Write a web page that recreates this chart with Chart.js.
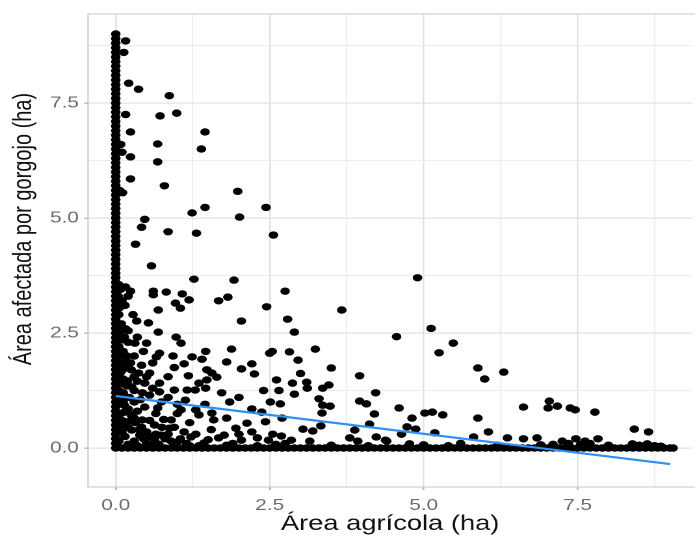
<!DOCTYPE html>
<html>
<head>
<meta charset="utf-8">
<script src="https://cdn.jsdelivr.net/npm/chart.js@4/dist/chart.umd.min.js"></script>
<style>
  html, body { margin: 0; padding: 0; background: #fff; }
  #plot { display: block; width: 697px; height: 538px; }
</style>
</head>
<body>
<canvas id="plot" width="536" height="538" style="width:697px;height:538px"></canvas>
<script>
/* =====================================================
   DATA
===================================================== */

// farms with no agricultural area: x = 0, affected area spread up to 9
const colY = [0.0, 0.1, 0.2, 0.3, 0.4, 0.5, 0.6, 0.7, 0.8, 0.9,
  1.0, 1.1, 1.2, 1.3, 1.4, 1.5, 1.6, 1.7, 1.8, 1.9,
  2.0, 2.1, 2.2, 2.3, 2.4, 2.5, 2.6, 2.7, 2.8, 2.9,
  3.0, 3.1, 3.2, 3.3, 3.4, 3.5, 3.6, 3.7, 3.8, 3.9,
  4.0, 4.1, 4.2, 4.3, 4.4, 4.5, 4.6, 4.7, 4.8, 4.9,
  5.0, 5.1, 5.2, 5.3, 5.4, 5.5, 5.6, 5.7, 5.8, 5.9,
  6.0, 6.1, 6.2, 6.3, 6.4, 6.5, 6.6, 6.7, 6.8, 6.9,
  7.0, 7.1, 7.2, 7.3, 7.4, 7.5, 7.6, 7.7, 7.8, 7.9,
  8.0, 8.1, 8.2, 8.3, 8.4, 8.5, 8.6, 8.7, 8.8, 8.9, 9.0];

// farms with no affected area: y = 0, agricultural area up to 9
const rowX = [0.1, 0.2, 0.3, 0.4, 0.5, 0.6, 0.7, 0.8, 0.9,
  1.0, 1.1, 1.2, 1.3, 1.4, 1.5, 1.6, 1.7, 1.8, 1.9,
  2.0, 2.1, 2.2, 2.3, 2.4, 2.5, 2.6, 2.7, 2.8, 2.9,
  3.0, 3.1, 3.2, 3.3, 3.4, 3.5, 3.6, 3.7, 3.8, 3.9,
  4.0, 4.1, 4.2, 4.3, 4.4, 4.5, 4.6, 4.7, 4.8, 4.9,
  5.0, 5.1, 5.2, 5.3, 5.4, 5.5, 5.6, 5.7, 5.8, 5.9,
  6.0, 6.1, 6.2, 6.3, 6.4, 6.5, 6.6, 6.7, 6.8, 6.9,
  7.0, 7.1, 7.2, 7.3, 7.4, 7.5, 7.6, 7.7, 7.8, 7.9,
  8.0, 8.1, 8.2, 8.3, 8.4, 8.5, 8.6, 8.7, 8.8, 8.9, 9.0, 9.05];

// scattered points above 3.5 ha
const upperPts = [
  [0.16,8.85],[0.13,8.6],[0.21,7.93],[0.37,7.8],[0.87,7.66],[0.16,7.25],[0.72,7.22],
  [0.99,7.28],[0.24,6.87],[1.45,6.87],[0.68,6.61],[1.39,6.5],[0.08,6.6],[0.1,6.43],
  [0.24,6.33],[0.68,6.22],[0.24,5.85],[0.79,5.7],[1.98,5.58],[0.11,5.55],[0.06,5.6],
  [1.24,5.11],[1.45,5.23],[2.01,5.02],[2.44,5.23],[2.56,4.63],[0.47,4.97],[0.42,4.8],
  [0.85,4.7],[1.31,4.67],[0.32,4.43],[0.58,3.96],[1.27,3.67],[1.92,3.65],[4.9,3.7],
  [0.16,3.5]
];

// scattered points between 2.5 and 3.5 ha
const midPts = [
  [0.24,3.41],[0.61,3.41],[0.61,3.33],[0.82,3.39],[1.08,3.35],[1.19,3.22],[0.97,3.15],
  [1.05,3.04],[0.69,3.0],[1.67,3.2],[1.82,3.28],[2.45,3.07],[2.75,3.41],[3.67,3.0],
  [0.34,2.76],[0.53,2.72],[2.04,2.76],[2.79,2.8],[5.12,2.6],[0.16,2.59],[2.9,2.52],
  [4.56,2.42],[0.69,2.52]
];

// scattered points below 2.5 ha
const lowPts = [
  [0.35,2.41],[0.5,2.28],[0.31,2.28],[0.98,2.41],[1.06,2.28],[1.46,2.1],[1.88,2.15],
  [0.71,2.06],[0.93,2.0],[0.66,1.98],[1.24,1.98],[1.4,1.93],[1.8,1.87],[1.11,1.83],
  [2.5,2.06],[2.54,2.1],[2.82,2.09],[0.24,1.85],[0.42,1.8],[0.37,1.63],[0.55,1.63],
  [1.18,1.57],[1.48,1.7],[1.56,1.63],[1.64,1.54],[1.48,1.48],[2.04,1.72],[2.21,1.83],
  [2.25,1.61],[2.61,1.48],[2.87,1.41],[0.19,1.46],[0.47,1.41],[0.71,1.41],[0.6,1.3],
  [1.35,1.41],[1.29,1.26],[1.46,1.3],[1.72,1.2],[0.95,1.26],[1.16,1.26],[0.43,1.2],
  [0.71,1.22],[0.26,1.33],[1.13,1.04],[1.06,0.83],[1.3,0.83],[0.74,1.0],[0.68,0.87],
  [0.47,0.89],[0.14,0.93],[0.14,0.78],[0.27,0.67],[0.43,0.61],[0.63,0.5],[0.9,0.61],
  [0.87,0.43],[1.56,0.76],[1.59,0.61],[1.35,0.72],[2.21,0.85],[2.37,0.78],[2.51,1.0],
  [2.67,0.96],[2.43,0.57],[2.13,0.54],[1.95,0.43],[1.76,0.28],[2.21,0.35],[2.69,0.26],
  [2.85,0.17],[1.11,0.35],[1.22,0.24],[1.0,0.13],[1.43,0.11],[0.26,0.39],[0.39,0.28],
  [0.63,0.17],[0.74,0.28],[1.67,0.22],[2.48,0.17],[2.04,0.17],[0.18,0.57],[0.13,1.15],
  [0.11,1.7],[0.14,2.41],
  [3.24,2.15],[2.96,1.91],[3.5,1.74],[3.0,1.62],[2.9,1.17],[3.1,1.43],[3.11,1.3],
  [3.36,1.3],[3.46,1.37],[3.96,1.57],[4.22,1.2],[3.3,1.07],[3.36,0.93],[3.48,0.91],
  [3.35,0.76],[3.96,1.02],[4.07,0.96],[4.2,0.74],[4.6,0.87],[4.81,0.65],[5.02,0.76],
  [5.14,0.78],[5.31,0.72],[5.88,1.74],[5.99,1.5],[6.3,1.65],[5.25,2.07],[5.48,2.28],
  [3.04,0.41],[3.2,0.37],[3.33,0.48],[3.88,0.39],[4.12,0.52],[4.23,0.24],[4.4,0.15],
  [4.64,0.3],[4.73,0.46],[4.87,0.41],[5.18,0.33],[5.88,0.65],[5.81,0.24],[6.05,0.35],
  [6.36,0.22],[3.15,0.15],[3.8,0.22],[3.93,0.15],[4.38,0.17],[4.77,0.09],
  [6.62,0.89],[6.62,0.2],[6.84,0.22],[7.04,1.02],[7.02,0.87],[7.17,0.91],[7.38,0.87],
  [7.46,0.83],[7.78,0.78],[7.25,0.15],[7.47,0.2],[7.62,0.15],[7.83,0.2],[8.42,0.41],
  [8.65,0.35],[8.39,0.09],[8.63,0.09]
];

// dense wedge next to the x = 0 column
const nearColPts = [
  [0.05,3.55],[0.08,3.45],[0.04,3.3],[0.1,3.2],[0.06,3.05],[0.05,2.9],[0.09,2.7],
  [0.12,2.6],[0.06,2.5],[0.1,2.35],[0.2,2.3],[0.05,2.2],[0.12,2.1],[0.07,2.0],
  [0.16,1.95],[0.05,1.85],[0.14,1.8],[0.2,1.75],[0.08,1.65],[0.25,1.7],[0.05,1.55],
  [0.12,1.5],[0.3,1.55],[0.08,1.4],[0.18,1.35],[0.05,1.25],[0.12,1.2],[0.22,1.1],
  [0.08,1.05],[0.3,1.0],[0.05,0.95],[0.2,0.85],[0.35,0.8],[0.08,0.75],[0.25,0.72],
  [0.1,0.6],[0.32,0.55],[0.05,0.5],[0.2,0.45],[0.42,0.45],[0.1,0.35],[0.5,0.35],
  [0.15,0.25],[0.3,0.15],[0.05,0.15],[0.2,0.08],[0.5,0.1],[0.55,0.6],[0.8,0.2],[0.9,0.15],
  [0.35,0.05],[0.45,0.2],[0.6,0.05],[0.65,0.3],[0.7,0.08],[0.75,0.45],[0.85,0.3],
  [0.95,0.05],[1.05,0.2],[1.15,0.1],[1.3,0.3],[1.35,0.05],[1.5,0.18],[1.55,0.4],
  [1.9,0.1],[2.0,0.3],[2.3,0.22],[2.55,0.3],[2.75,0.1],[0.25,0.05],[0.38,0.4],
  [0.55,0.25],[0.65,0.75],[0.78,0.62],[0.95,0.45],[1.0,0.75],[1.2,0.55],[0.3,1.25],
  [0.4,1.05],[0.55,1.15],[0.85,1.1],[0.35,1.45],[0.5,1.55],[0.85,1.55],[0.95,1.75],
  [0.6,1.85],[0.3,2.0],[0.45,2.1],[0.2,2.55],[0.28,2.9],[0.15,3.1],[0.2,3.3],
  [1.0,0.95],[1.45,0.95],[1.8,0.65],[1.85,1.0],[2.0,1.1],[2.4,1.25],[2.65,1.25],
  [2.7,0.65],[0.3,0.65],[0.15,0.45],[0.12,1.0],[0.18,2.0]
];

// points just above the y = 0 row
const nearRowPts = [
  [1.2,0.05],[1.8,0.06],[2.3,0.05],[2.6,0.08],[3.5,0.06],[4.1,0.05],[5.0,0.07],
  [5.4,0.05],[5.6,0.1],[6.2,0.06],[6.9,0.07],[7.1,0.08],[7.35,0.1],[7.55,0.08],
  [7.7,0.1],[8.0,0.06],[8.5,0.06],[8.75,0.05],[8.85,0.04]
];

// linear fit (geom_smooth, method = "lm")
const fitX = [0, 9.0];
const fitY = [1.13, -0.35];

// axis ticks (grid every 1.25, labels every 2.5)
const xTicks = [0, 1.25, 2.5, 3.75, 5, 6.25, 7.5, 8.75];
const yTicks = [0, 1.25, 2.5, 3.75, 5, 6.25, 7.5, 8.75];

const xTitle = "Área agrícola (ha)";
const yTitle = "Área afectada por gorgojo (ha)";


/* =====================================================
   BUILD POINTS
===================================================== */

const points = [];
colY.forEach(y => points.push({ x: 0, y: y }));
rowX.forEach(x => points.push({ x: x, y: 0 }));
[upperPts, midPts, lowPts, nearColPts, nearRowPts].forEach(list => {
  list.forEach(p => points.push({ x: p[0], y: p[1] }));
});

const fitLine = fitX.map((x, i) => ({ x: x, y: fitY[i] }));

const isMajor = v => Math.abs(v / 2.5 - Math.round(v / 2.5)) < 1e-6;


/* =====================================================
   PANEL BORDER + ROTATED Y TITLE
===================================================== */

const panelPlugin = {
  id: "panel",
  beforeDatasetsDraw(chart) {
    const { ctx, chartArea: a } = chart;
    ctx.save();
    ctx.strokeStyle = "#c6c6c6";
    ctx.lineWidth = 1;
    ctx.beginPath();
    ctx.moveTo(a.right + 2, a.top);
    ctx.lineTo(a.left, a.top);
    ctx.lineTo(a.left, a.bottom);
    ctx.lineTo(a.right + 2, a.bottom);
    ctx.stroke();
    ctx.restore();
  },
  afterDraw(chart) {
    const ctx = chart.ctx;
    ctx.save();
    ctx.translate(18.5, 229);
    ctx.rotate(-Math.PI / 2);
    ctx.font = '20px "Liberation Sans", Arial, sans-serif';
    ctx.fillStyle = "#111";
    ctx.textAlign = "center";
    ctx.textBaseline = "middle";
    ctx.fillText(yTitle, 0, 0);
    ctx.restore();
  }
};


/* =====================================================
   CHART
===================================================== */

const gridOpts = {
  color: c => isMajor(c.tick.value) ? "#e2e2e2" : "#ececec",
  lineWidth: c => isMajor(c.tick.value) ? 1.3 : 1,
  tickColor: c => isMajor(c.tick.value) ? "#b3b3b3" : "rgba(0,0,0,0)",
  tickLength: 3,
  drawTicks: true
};

const tickFont = { family: '"Liberation Sans", Arial, sans-serif', size: 16 };

new Chart(document.getElementById("plot"), {
  type: "scatter",
  data: {
    datasets: [
      {
        type: "line",
        data: fitLine,
        borderColor: "#2e8ff5",
        borderWidth: 2.2,
        pointRadius: 0,
        fill: false,
        tension: 0
      },
      {
        data: points,
        backgroundColor: "#000",
        borderWidth: 0,
        pointRadius: 3.7,
        pointHoverRadius: 3.7
      }
    ]
  },
  options: {
    responsive: false,
    devicePixelRatio: 2,
    animation: false,
    layout: { padding: { top: 14, right: 0, bottom: 0, left: 0 } },
    plugins: {
      legend: { display: false },
      tooltip: { enabled: false }
    },
    scales: {
      x: {
        type: "linear",
        min: -0.45,
        max: 9.36,
        grid: gridOpts,
        border: { display: false },
        afterBuildTicks: s => { s.ticks = xTicks.map(v => ({ value: v })); },
        afterFit: s => { s.height = 51; s.paddingLeft = 0; s.paddingRight = 0; },
        ticks: {
          autoSkip: false,
          maxRotation: 0,
          padding: 6,
          color: "#6b6b6b",
          font: tickFont,
          callback: v => isMajor(v) ? v.toFixed(1) : ""
        },
        title: {
          display: true,
          text: xTitle,
          color: "#111",
          font: { family: '"Liberation Sans", Arial, sans-serif', size: 21 },
          padding: { top: 0, bottom: 1 }
        }
      },
      y: {
        type: "linear",
        min: -0.848,
        max: 9.435,
        grid: gridOpts,
        border: { display: false },
        afterBuildTicks: s => { s.ticks = yTicks.map(v => ({ value: v })); },
        afterFit: s => { s.width = 67.7; s.paddingTop = 0; s.paddingBottom = 0; },
        ticks: {
          autoSkip: false,
          padding: 4,
          color: "#6b6b6b",
          font: tickFont,
          callback: v => isMajor(v) ? v.toFixed(1) : ""
        }
      }
    }
  },
  plugins: [panelPlugin]
});
</script>
</body>
</html>
